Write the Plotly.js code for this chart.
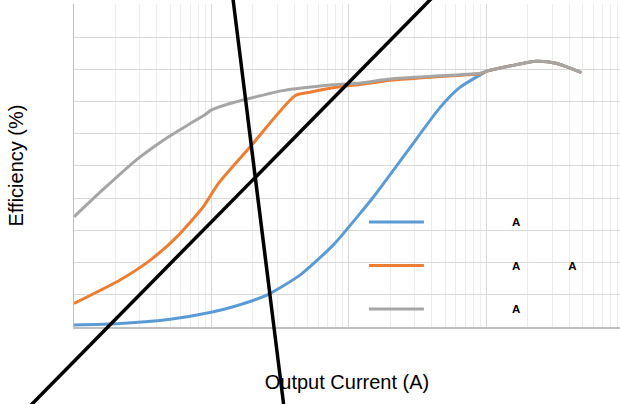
<!DOCTYPE html>
<html><head><meta charset="utf-8">
<script src="https://cdn.plot.ly/plotly-3.0.1.min.js"></script>
<style>html,body{margin:0;padding:0;background:#fff}#c{width:620px;height:404px}</style>
</head><body><div id="c"></div>
<script>
// Output current (A) and efficiency (%) for three series
var blueX   = [0.001, 0.00216, 0.005, 0.00975, 0.0144, 0.0252, 0.044, 0.077, 0.12, 0.15, 0.263, 0.46, 0.64, 0.9, 1.0, 1.25, 1.5, 2.3, 3.2, 4.9];
var blueY   = [0.6, 1.1, 2.4, 4.5, 6.3, 9.9, 16.1, 25.5, 35.2, 40.3, 54.3, 68.2, 74.4, 78.3, 79.4, 80.4, 81.1, 82.5, 81.9, 79.0];
var orangeX = [0.001, 0.00216, 0.00357, 0.0056, 0.0087, 0.0112, 0.019, 0.0405, 0.052, 0.086, 0.12, 0.2, 0.46, 0.9, 1.0, 1.25, 1.5, 2.3, 3.2, 4.9];
var orangeY = [7.3, 14.6, 20.7, 28.0, 37.3, 44.5, 55.8, 71.8, 72.9, 74.6, 75.3, 76.6, 77.8, 78.6, 79.4, 80.4, 81.1, 82.5, 81.9, 79.0];
var grayX   = [0.001, 0.0016, 0.0029, 0.0045, 0.0066, 0.009, 0.01, 0.0136, 0.017, 0.033, 0.077, 0.12, 0.2, 0.46, 0.9, 1.0, 1.25, 1.5, 2.3, 3.2, 4.9];
var grayY   = [34.2, 42.4, 52.2, 58.1, 62.5, 66.0, 67.4, 69.4, 70.5, 73.4, 75.2, 75.8, 77.0, 78.0, 78.8, 79.5, 80.4, 81.1, 82.5, 81.9, 79.0];
var legendNames = ["A", "A\u00a0\u00a0\u00a0\u00a0\u00a0\u00a0\u00a0\u00a0\u00a0\u00a0\u00a0\u00a0\u00a0\u00a0\u00a0A", "A"];
var namePad = 26;
var colors = ["#5B9BD5", "#ED7D31", "#A5A5A5"];
var xTitle = "Output Current (A)";
var yTitle = "Efficiency (%)";

function pad(s){ return "\u00a0".repeat(namePad) + s; }
var xs = [blueX, orangeX, grayX], ys = [blueY, orangeY, grayY];
var traces = xs.map(function(x, i){
  return {x: x, y: ys[i], type: "scatter", mode: "lines", name: pad(legendNames[i]),
    legendgroup: "g" + i, line: {color: colors[i], width: 3, shape: "spline", smoothing: 0.6}};
});

var layout = {
  width: 620, height: 404,
  margin: {l: 74, r: 0, t: 4, b: 77},
  paper_bgcolor: "#fff", plot_bgcolor: "#fff",
  font: {family: "Liberation Sans, Arial, sans-serif", color: "#000"},
  showlegend: true,
  legend: {x: 0.531, y: 0.37, xanchor: "left", yanchor: "top", bgcolor: "rgba(0,0,0,0)",
    itemwidth: 55, traceorder: "grouped", tracegroupgap: 24.5,
    font: {size: 11.5, color: "#000", family: "Liberation Sans, Arial, sans-serif", weight: "bold"}},
  xaxis: {type: "log", range: [-3, 0.971], showticklabels: false, ticks: "",
    showgrid: true, gridcolor: "#d9d9d9", gridwidth: 1, dtick: 1,
    minor: {showgrid: true, gridcolor: "#ececec", gridwidth: 1, dtick: "D1", ticks: ""},
    showline: true, linecolor: "#bfbfbf", linewidth: 1.5, zeroline: false,
    title: {text: xTitle, font: {size: 20, color: "#000"}, standoff: 47}},
  yaxis: {range: [0, 100.3], tick0: 0, dtick: 10, showticklabels: false, ticks: "",
    showgrid: true, gridcolor: "#d9d9d9", gridwidth: 1,
    showline: true, linecolor: "#bfbfbf", linewidth: 1.5, zeroline: false,
    title: {text: yTitle, font: {size: 20, color: "#000"}, standoff: 43}},
  shapes: [
    {type: "line", xref: "paper", yref: "paper", x0: 0.2903, y0: 1.0279, x1: 0.3852, y1: -0.257, line: {color: "#000", width: 3.5}},
    {type: "line", xref: "paper", yref: "paper", x0: 0.661, y0: 1.0279, x1: -0.0877, y1: -0.257, line: {color: "#000", width: 3.5}}
  ]
};
Plotly.newPlot("c", traces, layout, {displayModeBar: false, staticPlot: true});
</script></body></html>
